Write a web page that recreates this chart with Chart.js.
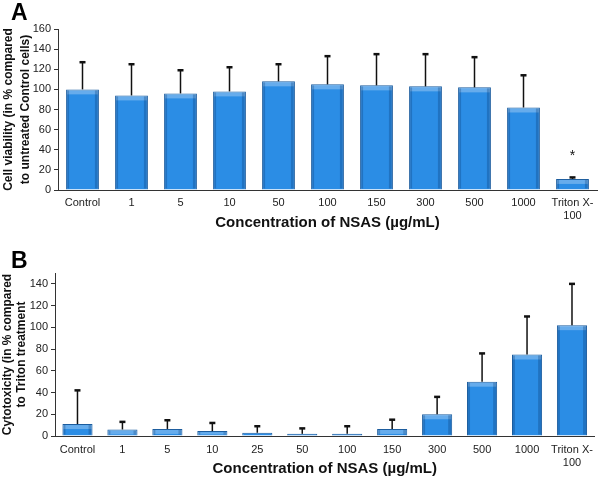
<!DOCTYPE html>
<html>
<head>
<meta charset="utf-8">
<script src="https://cdn.jsdelivr.net/npm/chart.js@4.4.1/dist/chart.umd.min.js"></script>
<style>
  body { margin:0; background:#fff; font-family:"Liberation Sans", Arial, sans-serif; }
  #wrap { position:relative; width:600px; height:479px; }
  .panel { position:absolute; left:0; width:600px; }
  .letter { position:absolute; font-weight:bold; font-size:23px; color:#000; }
</style>
</head>
<body>
<div id="wrap">
  <div class="panel" style="top:0;height:238px"><canvas id="chartA" width="600" height="238"></canvas></div>
  <div class="panel" style="top:240px;height:239px"><canvas id="chartB" width="600" height="239"></canvas></div>
  <div class="letter" style="left:11px;top:-1px">A</div>
  <div class="letter" style="left:11px;top:247px">B</div>
</div>
<script>
// panel A data
const labelsA = ['Control', '1', '5', '10', '50', '100', '150', '300', '500', '1000', ['Triton X-', '100']];
const viability = [100, 94, 96, 98, 108, 105, 104, 103, 102, 82, 11];
const viabilityErr = [27, 31, 23, 24, 17, 28, 31, 32, 30, 32, 1.5];
const marksA = ['', '', '', '', '', '', '', '', '', '', '*'];
const ticksA = [0, 20, 40, 60, 80, 100, 120, 140, 160];

// panel B data
const labelsB = ['Control', '1', '5', '10', '25', '50', '100', '150', '300', '500', '1000', ['Triton X-', '100']];
const cytotox = [11, 6, 6.5, 4.5, 3, 2, 2, 6.5, 20, 50, 75, 102];
const cytotoxErr = [31, 7, 8, 7.5, 6, 5, 7, 8.5, 16, 26, 35, 38];
const ticksB = [0, 20, 40, 60, 80, 100, 120, 140];

const barFill = '#2b8de5';
const barEdge = '#1b5c9e';
const font = '"Liberation Sans", Arial';

// draws the upper half of each error bar, plus any significance mark
const errorBars = {
  id: 'errorBars',
  afterDatasetsDraw(chart, args, opts) {
    const ctx = chart.ctx;
    const meta = chart.getDatasetMeta(0);
    const y = chart.scales.y;
    const vals = chart.data.datasets[0].data;
    ctx.save();
    ctx.strokeStyle = '#111';
    for (let i = 0; i < vals.length; i++) {
      const x = meta.data[i].x;
      const y0 = y.getPixelForValue(vals[i]);
      const y1 = y.getPixelForValue(vals[i] + opts.err[i]);
      ctx.lineWidth = 1.5;
      ctx.beginPath();
      ctx.moveTo(x, y0);
      ctx.lineTo(x, y1);
      ctx.stroke();
      ctx.lineWidth = 2.5;
      ctx.beginPath();
      ctx.moveTo(x - 3, y1);
      ctx.lineTo(x + 3, y1);
      ctx.stroke();
      if (opts.marks && opts.marks[i]) {
        ctx.fillStyle = '#111';
        ctx.font = '14px ' + font;
        ctx.textAlign = 'center';
        ctx.textBaseline = 'middle';
        ctx.fillText(opts.marks[i], x, y1 - 21);
      }
    }
    ctx.restore();
  }
};

// lighter band along the top of each bar, darker sides, for the bevel look
const bevel = {
  id: 'bevel',
  afterDatasetsDraw(chart) {
    const ctx = chart.ctx;
    const meta = chart.getDatasetMeta(0);
    ctx.save();
    meta.data.forEach(bar => {
      const w = bar.width;
      const h = bar.base - bar.y;
      if (h < 3) return;
      ctx.fillStyle = 'rgba(255,255,255,0.28)';
      ctx.fillRect(bar.x - w / 2 + 1, bar.y + 1, w - 2, Math.min(4, h - 2));
      ctx.fillStyle = 'rgba(0,40,90,0.25)';
      ctx.fillRect(bar.x + w / 2 - 4, bar.y + 1, 3, h - 2);
      ctx.fillRect(bar.x - w / 2 + 1, bar.y + 1, 2, h - 2);
    });
    ctx.restore();
  }
};

function makeOptions(yTitle, yMax, yTicks, errs, marks, box) {
  return {
    responsive: false,
    animation: false,
    layout: { padding: { top: box.top, right: box.right, left: 0, bottom: 0 } },
    plugins: {
      legend: { display: false },
      tooltip: { enabled: false },
      errorBars: { err: errs, marks: marks }
    },
    scales: {
      x: {
        afterFit(axis) { axis.height = box.xh; },
        grid: { drawOnChartArea: false, drawTicks: false },
        border: { color: '#333', width: 1 },
        ticks: { color: '#222', font: { size: 11, family: font }, padding: box.tp, maxRotation: 0, autoSkip: false },
        title: { display: true, text: 'Concentration of NSAS (µg/mL)', color: '#111',
                 font: { size: 15, weight: 'bold', family: font }, padding: { top: 0, bottom: box.tb } }
      },
      y: {
        min: 0, max: yMax,
        afterFit(axis) { axis.width = box.yw; },
        afterBuildTicks(axis) { axis.ticks = yTicks.map(v => ({ value: v })); },
        grid: { drawOnChartArea: false, tickLength: 4, color: '#333' },
        border: { color: '#333', width: 1 },
        ticks: { color: '#222', font: { size: 11, family: font }, padding: 3 },
        title: { display: true, text: yTitle, color: '#111',
                 font: { size: 12, weight: 'bold', family: font, lineHeight: box.lh }, padding: { top: 1, bottom: 0 } }
      }
    }
  };
}

new Chart(document.getElementById('chartA'), {
  type: 'bar',
  data: {
    labels: labelsA,
    datasets: [{ data: viability, backgroundColor: barFill, borderColor: barEdge, borderWidth: 1,
                 categoryPercentage: 1, barPercentage: 0.67 }]
  },
  options: makeOptions(['Cell viability (in % compared', 'to untreated Control cells)'], 160, ticksA,
                       viabilityErr, marksA, { top: 29, right: 3, yw: 58, xh: 48, tp: 6, tb: 6, lh: 1.35 }),
  plugins: [bevel, errorBars]
});

new Chart(document.getElementById('chartB'), {
  type: 'bar',
  data: {
    labels: labelsB,
    datasets: [{ data: cytotox, backgroundColor: barFill, borderColor: barEdge, borderWidth: 1,
                 categoryPercentage: 1, barPercentage: 0.67 }]
  },
  options: makeOptions(['Cytotoxicity (in % compared', 'to Triton treatment'], 150, ticksB,
                       cytotoxErr, null, { top: 33, right: 3, yw: 55, xh: 43, tp: 7, tb: 1, lh: 1.15 }),
  plugins: [bevel, errorBars]
});
</script>
</body>
</html>
